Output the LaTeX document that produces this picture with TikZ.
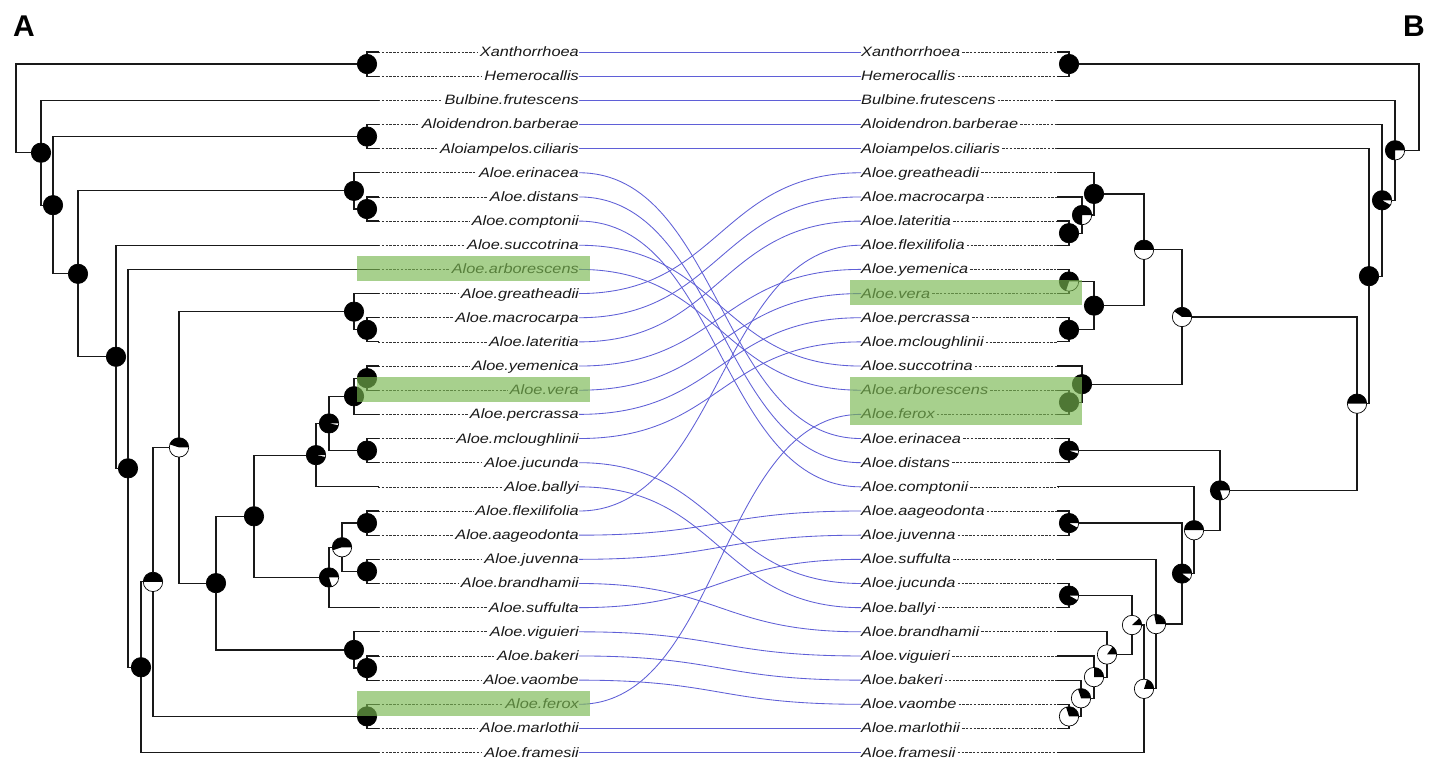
\documentclass[tikz,border=0pt]{standalone}
\usepackage{fontspec}
\setmainfont{Liberation Sans}
\newfontfamily\labfont[FakeStretch=1.2]{Liberation Sans}
\usetikzlibrary{calc}
\definecolor{conn}{RGB}{95,95,215}
\definecolor{hl}{RGB}{121,183,80}
\newcommand\pienode[2]{%
 \begin{scope}[shift={(#1)}, x=1pt, y=1pt]
  \fill[white] (0,0) circle[radius=9.7];
  \fill[black] (0,0) -- (9.7,0) arc[start angle=0, end angle={360*#2}, radius=9.7] -- cycle;
  \draw[line width=0.7pt] (0,0) circle[radius=9.7];
 \end{scope}}
\newcommand\twoedges[3]{\draw[tree] (#1) |- (#2); \draw[tree] (#1) |- (#3);}
\begin{document}
\begin{tikzpicture}[x=1pt,y=-1pt,
  declare function={ry(\k)=27.8+24.16*\k;},
  tree/.style={line width=1.2pt, black!90, line cap=rect},
  lead/.style={line width=0.7pt, black!80, dash pattern=on 2.4pt off 1.4pt},
  blink/.style={line width=0.85pt, conn},
  lab/.style={font=\labfont\itshape\fontsize{13.6}{14}\selectfont, text=black!90, inner sep=0pt, text height=11pt, text depth=2pt},
  hlbox/.style={fill=hl, fill opacity=0.65, draw=none},
  big/.style={font=\bfseries\fontsize{30}{30}\selectfont, inner sep=0pt}]
\fill[white] (0,0) rectangle (1439,761);
\useasboundingbox (0,0) rectangle (1439,761);

% labels left
\foreach \n [count=\k] in {Xanthorrhoea,Hemerocallis,Bulbine.frutescens,Aloidendron.barberae,Aloiampelos.ciliaris,Aloe.erinacea,Aloe.distans,Aloe.comptonii,Aloe.succotrina,Aloe.arborescens,Aloe.greatheadii,Aloe.macrocarpa,Aloe.lateritia,Aloe.yemenica,Aloe.vera,Aloe.percrassa,Aloe.mcloughlinii,Aloe.jucunda,Aloe.ballyi,Aloe.flexilifolia,Aloe.aageodonta,Aloe.juvenna,Aloe.brandhamii,Aloe.suffulta,Aloe.viguieri,Aloe.bakeri,Aloe.vaombe,Aloe.ferox,Aloe.marlothii,Aloe.framesii}{
  \node[lab, anchor=east] (L\k) at (579,{ry(\k)}) {\n};
  \coordinate (lt\k) at (378,{ry(\k)});
  \draw[lead] (lt\k) -- ([xshift=-2pt]L\k.west);
}
% labels right
\foreach \n [count=\k] in {Xanthorrhoea,Hemerocallis,Bulbine.frutescens,Aloidendron.barberae,Aloiampelos.ciliaris,Aloe.greatheadii,Aloe.macrocarpa,Aloe.lateritia,Aloe.flexilifolia,Aloe.yemenica,Aloe.vera,Aloe.percrassa,Aloe.mcloughlinii,Aloe.succotrina,Aloe.arborescens,Aloe.ferox,Aloe.erinacea,Aloe.distans,Aloe.comptonii,Aloe.aageodonta,Aloe.juvenna,Aloe.suffulta,Aloe.jucunda,Aloe.ballyi,Aloe.brandhamii,Aloe.viguieri,Aloe.bakeri,Aloe.vaombe,Aloe.marlothii,Aloe.framesii}{
  \node[lab, anchor=west] (R\k) at (861,{ry(\k)}) {\n};
  \coordinate (rt\k) at (1058,{ry(\k)});
  \draw[lead] ([xshift=2pt]R\k.east) -- (rt\k);
}

% links
\foreach \a/\b in {1/1,2/2,3/3,4/4,5/5,6/17,7/18,8/19,9/14,10/15,11/6,12/7,13/8,14/10,15/11,16/12,17/13,18/23,19/24,20/9,21/20,22/21,23/25,24/22,25/26,26/27,27/28,28/16,29/29,30/30}{
  \draw[blink] (L\a.east) .. controls ($(L\a.east)+(141,0)$) and ($(R\b.west)+(-141,0)$) .. (R\b.west);
}

% left tree nodes
\coordinate (lXH) at (367,{ry(1.5)});
\coordinate (lAA) at (367,{ry(4.5)});
\coordinate (lDC) at (367,{ry(7.5)});
\coordinate (lEDC) at (354,{ry(6.75)});
\coordinate (lML) at (367,{ry(12.5)});
\coordinate (lGML) at (354,{ry(11.75)});
\coordinate (lYV) at (367,{ry(14.5)});
\coordinate (lYVP) at (354,{ry(15.25)});
\coordinate (lMJ) at (367,{ry(17.5)});
\coordinate (lq1) at (329,{ry(16.375)});
\coordinate (lq2) at (316,{ry(17.6875)});
\coordinate (lFA) at (367,{ry(20.5)});
\coordinate (lJB) at (367,{ry(22.5)});
\coordinate (lq3) at (342,{ry(21.5)});
\coordinate (lq4) at (329,{ry(22.75)});
\coordinate (lq5) at (254,{ry(20.21875)});
\coordinate (lBV) at (367,{ry(26.5)});
\coordinate (lVBV) at (354,{ry(25.75)});
\coordinate (lq6) at (216,{ry(22.984375)});
\coordinate (lq7) at (179,{ry(17.3671875)});
\coordinate (lFM) at (367,{ry(28.5)});
\coordinate (lq8) at (153,{ry(22.93359375)});
\coordinate (lq9) at (141,{ry(26.466796875)});
\coordinate (lq10) at (128,{ry(18.2333984375)});
\coordinate (lq11) at (116,{ry(13.61669921875)});
\coordinate (lq12) at (78,{ry(10.183349609375)});
\coordinate (lq13) at (53,{ry(7.3416748046875)});
\coordinate (lq14) at (41,{ry(5.17083740234375)});
\coordinate (lroot) at (16,{ry(3.335418701171875)});

\twoedges{lXH}{lt1}{lt2}
\twoedges{lAA}{lt4}{lt5}
\twoedges{lDC}{lt7}{lt8}
\twoedges{lEDC}{lt6}{lDC}
\twoedges{lML}{lt12}{lt13}
\twoedges{lGML}{lt11}{lML}
\twoedges{lYV}{lt14}{lt15}
\twoedges{lYVP}{lYV}{lt16}
\twoedges{lMJ}{lt17}{lt18}
\twoedges{lq1}{lYVP}{lMJ}
\twoedges{lq2}{lq1}{lt19}
\twoedges{lFA}{lt20}{lt21}
\twoedges{lJB}{lt22}{lt23}
\twoedges{lq3}{lFA}{lJB}
\twoedges{lq4}{lq3}{lt24}
\twoedges{lq5}{lq2}{lq4}
\twoedges{lBV}{lt26}{lt27}
\twoedges{lVBV}{lt25}{lBV}
\twoedges{lq6}{lq5}{lVBV}
\twoedges{lq7}{lGML}{lq6}
\twoedges{lFM}{lt28}{lt29}
\twoedges{lq8}{lq7}{lFM}
\twoedges{lq9}{lq8}{lt30}
\twoedges{lq10}{lt10}{lq9}
\twoedges{lq11}{lt9}{lq10}
\twoedges{lq12}{lEDC}{lq11}
\twoedges{lq13}{lAA}{lq12}
\twoedges{lq14}{lt3}{lq13}
\twoedges{lroot}{lXH}{lq14}

% right tree nodes
\coordinate (rXH) at (1069,{ry(1.5)});
\coordinate (rLF) at (1069,{ry(8.5)});
\coordinate (rMLF) at (1082,{ry(7.75)});
\coordinate (rGMLF) at (1094,{ry(6.875)});
\coordinate (rYV) at (1069,{ry(10.5)});
\coordinate (rPM) at (1069,{ry(12.5)});
\coordinate (rYVPM) at (1094,{ry(11.5)});
\coordinate (rs1) at (1144,{ry(9.1875)});
\coordinate (rAF) at (1069,{ry(15.5)});
\coordinate (rSAF) at (1082,{ry(14.75)});
\coordinate (rs2) at (1182,{ry(11.96875)});
\coordinate (rED) at (1069,{ry(17.5)});
\coordinate (rAJ) at (1069,{ry(20.5)});
\coordinate (rJB) at (1069,{ry(23.5)});
\coordinate (rVM) at (1069,{ry(28.5)});
\coordinate (rb1) at (1081,{ry(27.75)});
\coordinate (rb2) at (1094,{ry(26.875)});
\coordinate (rb3) at (1107,{ry(25.9375)});
\coordinate (rb4) at (1132,{ry(24.71875)});
\coordinate (rb5) at (1144,{ry(27.359375)});
\coordinate (rb6) at (1156,{ry(24.6796875)});
\coordinate (rb7) at (1182,{ry(22.58984375)});
\coordinate (rb8) at (1194,{ry(20.794921875)});
\coordinate (rb9) at (1220,{ry(19.1474609375)});
\coordinate (rs3) at (1357,{ry(15.55810546875)});
\coordinate (rc1) at (1369,{ry(10.279052734375)});
\coordinate (rc2) at (1382,{ry(7.1395263671875)});
\coordinate (rc3) at (1395,{ry(5.06976318359375)});
\coordinate (rroot) at (1419,{ry(3.284881591796875)});

\twoedges{rXH}{rt1}{rt2}
\twoedges{rLF}{rt8}{rt9}
\twoedges{rMLF}{rt7}{rLF}
\twoedges{rGMLF}{rt6}{rMLF}
\twoedges{rYV}{rt10}{rt11}
\twoedges{rPM}{rt12}{rt13}
\twoedges{rYVPM}{rYV}{rPM}
\twoedges{rs1}{rGMLF}{rYVPM}
\twoedges{rAF}{rt15}{rt16}
\twoedges{rSAF}{rt14}{rAF}
\twoedges{rs2}{rs1}{rSAF}
\twoedges{rED}{rt17}{rt18}
\twoedges{rAJ}{rt20}{rt21}
\twoedges{rJB}{rt23}{rt24}
\twoedges{rVM}{rt28}{rt29}
\twoedges{rb1}{rt27}{rVM}
\twoedges{rb2}{rt26}{rb1}
\twoedges{rb3}{rt25}{rb2}
\twoedges{rb4}{rJB}{rb3}
\twoedges{rb5}{rb4}{rt30}
\twoedges{rb6}{rt22}{rb5}
\twoedges{rb7}{rAJ}{rb6}
\twoedges{rb8}{rt19}{rb7}
\twoedges{rb9}{rED}{rb8}
\twoedges{rs3}{rs2}{rb9}
\twoedges{rc1}{rt5}{rs3}
\twoedges{rc2}{rt4}{rc1}
\twoedges{rc3}{rt3}{rc2}
\twoedges{rroot}{rXH}{rc3}

% pies left
\foreach \p/\f in {lXH/1,lAA/1,lDC/1,lEDC/1,lML/1,lGML/1,lYV/1,lYVP/1,lMJ/1,lq1/0.97,lq2/0.97,lFA/1,lJB/1,lq3/0.55,lq4/0.8,lq5/1,lBV/1,lVBV/1,lq6/1,lq7/0.45,lFM/1,lq8/0.5,lq9/1,lq10/1,lq11/1,lq12/1,lq13/1,lq14/1}{\pienode{\p}{\f}}
% pies right
\foreach \p/\f in {rXH/1,rLF/1,rMLF/0.75,rGMLF/1,rYV/0.7,rPM/1,rYVPM/1,rs1/0.5,rAF/1,rSAF/1,rs2/0.4,rED/0.95,rAJ/0.92,rJB/0.92,rVM/0.3,rb1/0.3,rb2/0.25,rb3/0.15,rb4/0.12,rb5/0.2,rb6/0.28,rb7/0.9,rb8/0.5,rb9/0.8,rs3/0.5,rc1/1,rc2/0.92,rc3/0.75}{\pienode{\p}{\f}}

% highlights
\fill[hlbox] (357,256) rectangle (590,281);
\fill[hlbox] (357,377) rectangle (590,402);
\fill[hlbox] (357,691) rectangle (590,716);
\fill[hlbox] (850,280) rectangle (1082,305);
\fill[hlbox] (850,377) rectangle (1082,425);

\node[big] (A) at (24,26) {A};
\node[big] (B) at (1414,26) {B};
\end{tikzpicture}
\end{document}
